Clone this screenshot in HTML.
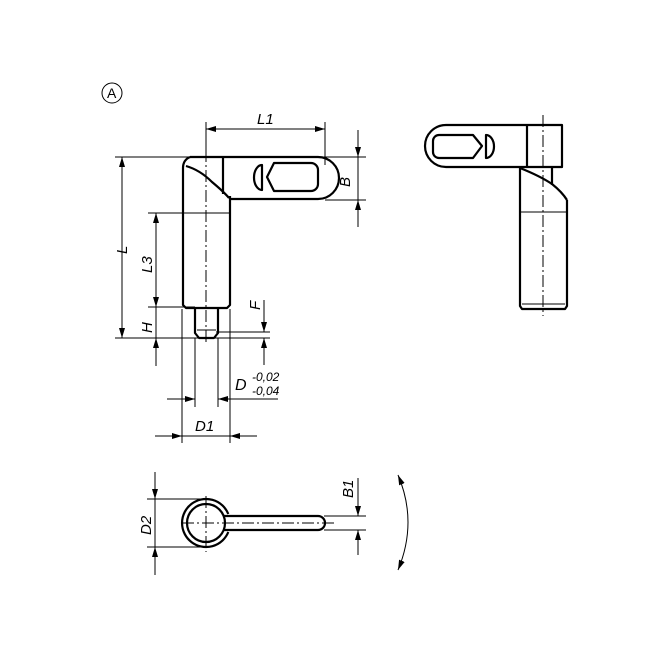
<!DOCTYPE html>
<html><head><meta charset="utf-8"><style>
html,body{margin:0;padding:0;background:#fff}
svg{display:block}
text{font-family:"Liberation Sans",sans-serif;font-style:italic;fill:#000}
</style></head><body>
<svg width="654" height="654" viewBox="0 0 654 654" xmlns="http://www.w3.org/2000/svg">
<defs>
<marker id="a" viewBox="0 0 10 6" refX="10" refY="3" markerWidth="10" markerHeight="6" orient="auto-start-reverse" markerUnits="userSpaceOnUse"><path d="M0,0L10,3L0,6z" fill="#000"/></marker>
</defs>
<g fill="none" stroke="#000">
<circle cx="112" cy="93" r="10" stroke-width="1"/>
<!-- FRONT VIEW -->
<g stroke-width="2.2" stroke-linejoin="round">
<path d="M190,157 H318 A21,21 0 0 1 318,199 H229"/>
<line x1="223" y1="157" x2="223" y2="194"/>
<path d="M190,157 Q183,160 183,168 V305 L186,308 H227 L230,305 V196"/>
<path d="M186,166 Q200,170 212,182 Q224,192 229,198"/>
<path d="M195,308 V333 L199,338 H214 L218,333 V308"/>
<path d="M274,163 H311 A7,7 0 0 1 318,170 V184 A7,7 0 0 1 311,191 H274 L267,177 Z"/>
<path d="M262,165 A8,12.5 0 0 0 262,190 Z"/>
</g>
<g stroke-width="1">
<line x1="184" y1="213" x2="229" y2="213"/>
<line x1="197" y1="330" x2="216" y2="330"/>
<line x1="206" y1="150" x2="206" y2="345" stroke-dasharray="12,3,2,3"/>
<line x1="206" y1="122" x2="206" y2="157"/>
<line x1="325" y1="122" x2="325" y2="165"/>
<line x1="206" y1="129" x2="325" y2="129" marker-start="url(#a)" marker-end="url(#a)"/>
<line x1="115" y1="157" x2="366" y2="157"/>
<line x1="325" y1="200" x2="366" y2="200"/>
<line x1="358" y1="130" x2="358" y2="157" marker-end="url(#a)"/>
<line x1="358" y1="227" x2="358" y2="200" marker-end="url(#a)"/>
<line x1="358" y1="157" x2="358" y2="200"/>
<line x1="122" y1="157" x2="122" y2="338" marker-start="url(#a)" marker-end="url(#a)"/>
<line x1="148" y1="213" x2="183" y2="213"/>
<line x1="156" y1="213" x2="156" y2="307" marker-start="url(#a)" marker-end="url(#a)"/>
<line x1="148" y1="307" x2="195" y2="307"/>
<line x1="115" y1="338" x2="270" y2="338"/>
<line x1="156" y1="307" x2="156" y2="338"/>
<line x1="156" y1="366" x2="156" y2="338" marker-end="url(#a)"/>
<line x1="216" y1="332" x2="270" y2="332"/>
<line x1="264" y1="300" x2="264" y2="332" marker-end="url(#a)"/>
<line x1="264" y1="365" x2="264" y2="338" marker-end="url(#a)"/>
<line x1="195" y1="338" x2="195" y2="407"/>
<line x1="218" y1="338" x2="218" y2="407"/>
<line x1="167" y1="399" x2="195" y2="399" marker-end="url(#a)"/>
<line x1="278" y1="399" x2="218" y2="399" marker-end="url(#a)"/>
<line x1="182" y1="309" x2="182" y2="443"/>
<line x1="230" y1="309" x2="230" y2="443"/>
<line x1="155" y1="436" x2="182" y2="436" marker-end="url(#a)"/>
<line x1="257" y1="436" x2="230" y2="436" marker-end="url(#a)"/>
<line x1="182" y1="436" x2="230" y2="436"/>
</g>
<!-- SIDE VIEW -->
<g stroke-width="2.2" stroke-linejoin="round">
<path d="M562,125 H446 A21,21 0 0 0 446,167 H562 Z"/>
<line x1="527" y1="125" x2="527" y2="167"/>
<path d="M439,135 H473 L482,146 L473,158 H439 A6,6 0 0 1 433,152 V141 A6,6 0 0 1 439,135 Z"/>
<path d="M486,135 A8,11.5 0 0 1 486,158 Z"/>
<path d="M520,167 V306 L522,309 H565 L567,306 V200"/>
<path d="M520,168 Q540,176 552,184 Q562,192 567,200"/>
<line x1="552" y1="167" x2="552" y2="185"/>
</g>
<g stroke-width="1">
<line x1="520" y1="212" x2="567" y2="212"/>
<line x1="522" y1="304" x2="565" y2="304"/>
<line x1="543" y1="115" x2="543" y2="316" stroke-dasharray="12,3,2,3"/>
</g>
<!-- BOTTOM VIEW -->
<g stroke-width="2.2">
<path d="M228.3,514 A24,24 0 1 0 228.3,532"/>
<circle cx="206" cy="523" r="19"/>
<path d="M224,516 H318 A7,7 0 0 1 318,530 H224"/>
</g>
<g stroke-width="1">
<line x1="182" y1="523" x2="336" y2="523" stroke-dasharray="12,3,2,3"/>
<line x1="206" y1="496" x2="206" y2="552" stroke-dasharray="12,3,2,3"/>
<line x1="147" y1="499" x2="206" y2="499"/>
<line x1="147" y1="547" x2="206" y2="547"/>
<line x1="155" y1="472" x2="155" y2="499" marker-end="url(#a)"/>
<line x1="155" y1="575" x2="155" y2="547" marker-end="url(#a)"/>
<line x1="155" y1="499" x2="155" y2="547"/>
<line x1="324" y1="516" x2="366" y2="516"/>
<line x1="324" y1="530" x2="366" y2="530"/>
<line x1="358" y1="478" x2="358" y2="516" marker-end="url(#a)"/>
<line x1="358" y1="555" x2="358" y2="530" marker-end="url(#a)"/>
<path d="M398,475 Q418,522 398,570" marker-start="url(#a)" marker-end="url(#a)"/>
</g>
</g>
<text x="107" y="98" font-size="14" style="font-style:normal">A</text>
<text x="257" y="124" font-size="15">L1</text>
<text x="0" y="0" font-size="15" transform="translate(350,187) rotate(-90)">B</text>
<text x="0" y="0" font-size="15" transform="translate(127,254) rotate(-90)">L</text>
<text x="0" y="0" font-size="15" transform="translate(152,273) rotate(-90)">L3</text>
<text x="0" y="0" font-size="15" transform="translate(152,333) rotate(-90)">H</text>
<text x="0" y="0" font-size="15" transform="translate(260,310) rotate(-90)">F</text>
<text x="235" y="390" font-size="16">D</text>
<text x="252" y="381" font-size="12">-0,02</text>
<text x="252" y="395" font-size="12">-0,04</text>
<text x="195" y="431" font-size="15">D1</text>
<text x="0" y="0" font-size="15" transform="translate(151,535) rotate(-90)">D2</text>
<text x="0" y="0" font-size="15" transform="translate(353,498) rotate(-90)">B1</text>
</svg>
</body></html>
